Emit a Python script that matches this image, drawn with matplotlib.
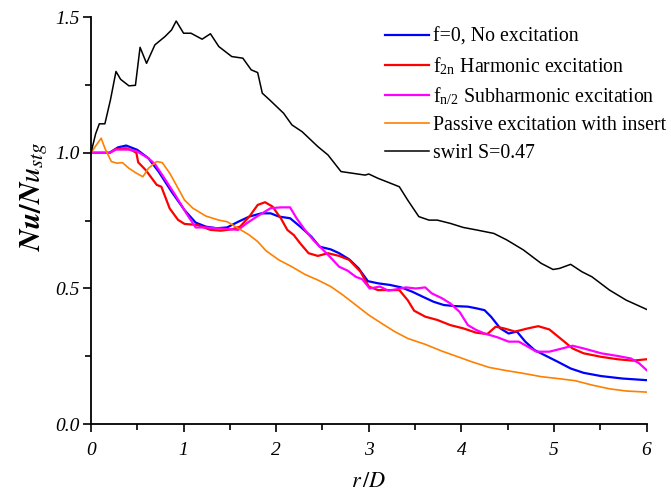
import numpy as np
import matplotlib.pyplot as plt

plt.rcParams['font.family'] = ['Liberation Serif', 'DejaVu Serif']
plt.rcParams['mathtext.fontset'] = 'stix'

# r/D and Nu/Nu_stg for each case
x_blue = [0, 0.2, 0.29, 0.38, 0.50, 0.62, 0.73, 0.87, 1.01, 1.13, 1.24, 1.36, 1.47, 1.59, 1.71,
          1.84, 1.94, 2.03, 2.15, 2.26, 2.38, 2.47, 2.59, 2.68, 2.79, 2.89, 2.99, 3.10, 3.23,
          3.35, 3.47, 3.58, 3.70, 3.81, 3.93, 4.07, 4.16, 4.25, 4.32, 4.42, 4.51, 4.60, 4.69,
          4.79, 4.90, 5.04, 5.18, 5.32, 5.51, 5.74, 6.0]
y_blue = [1.0, 1.0, 1.02, 1.027, 1.011, 0.98, 0.931, 0.857, 0.789, 0.743, 0.728, 0.722, 0.725,
          0.746, 0.765, 0.777, 0.777, 0.765, 0.759, 0.728, 0.691, 0.654, 0.644, 0.630, 0.607,
          0.574, 0.527, 0.519, 0.513, 0.504, 0.488, 0.470, 0.451, 0.439, 0.435, 0.433, 0.427,
          0.420, 0.396, 0.353, 0.334, 0.341, 0.304, 0.273, 0.254, 0.230, 0.205, 0.189, 0.177,
          0.168, 0.162]

x_red = [0, 0.2, 0.27, 0.38, 0.45, 0.49, 0.51, 0.59, 0.71, 0.76, 0.85, 0.94, 1.01, 1.15, 1.29,
         1.40, 1.52, 1.61, 1.71, 1.80, 1.88, 1.96, 2.05, 2.12, 2.19, 2.26, 2.35, 2.45, 2.56,
         2.68, 2.79, 2.91, 3.0, 3.10, 3.19, 3.33, 3.42, 3.49, 3.61, 3.74, 3.88, 4.02, 4.16,
         4.28, 4.37, 4.46, 4.58, 4.72, 4.83, 4.95, 5.09, 5.20, 5.32, 5.51, 5.69, 5.85, 6.0]
y_red = [1.0, 1.0, 1.014, 1.017, 1.008, 1.0, 0.965, 0.937, 0.882, 0.875, 0.795, 0.753, 0.738,
         0.734, 0.716, 0.713, 0.718, 0.728, 0.765, 0.808, 0.818, 0.802, 0.759, 0.716, 0.697,
         0.666, 0.630, 0.620, 0.630, 0.620, 0.605, 0.562, 0.507, 0.494, 0.494, 0.494, 0.457,
         0.418, 0.396, 0.384, 0.365, 0.353, 0.337, 0.332, 0.359, 0.353, 0.341, 0.353, 0.361,
         0.349, 0.310, 0.279, 0.261, 0.248, 0.239, 0.234, 0.239]

x_mag = [0, 0.2, 0.27, 0.41, 0.50, 0.62, 0.69, 0.78, 0.92, 1.03, 1.13, 1.24, 1.36, 1.47, 1.59,
         1.68, 1.80, 1.94, 2.05, 2.15, 2.22, 2.31, 2.40, 2.49, 2.58, 2.68, 2.77, 2.86, 2.93,
         3.01, 3.12, 3.21, 3.30, 3.40, 3.51, 3.61, 3.68, 3.79, 3.88, 3.98, 4.07, 4.16, 4.25,
         4.39, 4.51, 4.62, 4.72, 4.81, 4.95, 5.09, 5.20, 5.32, 5.51, 5.69, 5.83, 5.92, 6.0]
y_mag = [1.0, 1.0, 1.012, 1.012, 1.005, 0.98, 0.959, 0.913, 0.839, 0.777, 0.725, 0.725, 0.722,
         0.719, 0.716, 0.740, 0.767, 0.796, 0.799, 0.799, 0.759, 0.716, 0.679, 0.648, 0.617,
         0.580, 0.566, 0.543, 0.534, 0.500, 0.507, 0.492, 0.497, 0.504, 0.500, 0.504, 0.482,
         0.464, 0.445, 0.414, 0.365, 0.347, 0.334, 0.320, 0.304, 0.304, 0.285, 0.267, 0.267,
         0.279, 0.289, 0.279, 0.261, 0.251, 0.242, 0.224, 0.199]

x_orange = [0, 0.05, 0.11, 0.15, 0.22, 0.28, 0.34, 0.41, 0.49, 0.56, 0.62, 0.71, 0.77, 0.85,
            0.92, 1.01, 1.10, 1.24, 1.38, 1.47, 1.59, 1.71, 1.80, 1.89, 2.03, 2.17, 2.31, 2.45,
            2.59, 2.72, 2.86, 3.0, 3.14, 3.28, 3.42, 3.61, 3.79, 3.98, 4.11, 4.30, 4.49, 4.67,
            4.86, 5.04, 5.23, 5.41, 5.60, 5.78, 6.0]
y_orange = [1.0, 1.025, 1.054, 1.017, 0.968, 0.962, 0.964, 0.943, 0.925, 0.912, 0.943, 0.968,
            0.964, 0.925, 0.882, 0.826, 0.796, 0.767, 0.752, 0.746, 0.722, 0.697, 0.673, 0.639,
            0.605, 0.580, 0.552, 0.531, 0.507, 0.476, 0.439, 0.402, 0.371, 0.341, 0.316, 0.294,
            0.269, 0.246, 0.230, 0.209, 0.197, 0.187, 0.175, 0.168, 0.160, 0.144, 0.130, 0.122,
            0.118]

x_black = [0, 0.05, 0.09, 0.15, 0.21, 0.27, 0.32, 0.41, 0.48, 0.53, 0.60, 0.69, 0.80, 0.87,
           0.92, 1.0, 1.08, 1.20, 1.29, 1.38, 1.52, 1.64, 1.73, 1.80, 1.85, 1.93, 2.08, 2.17,
           2.28, 2.45, 2.56, 2.70, 2.82, 2.96, 3.0, 3.10, 3.19, 3.33, 3.42, 3.54, 3.65, 3.74,
           3.88, 4.02, 4.16, 4.35, 4.49, 4.67, 4.86, 4.99, 5.06, 5.18, 5.30, 5.41, 5.60, 5.78,
           6.0]
y_black = [1.0, 1.07, 1.107, 1.107, 1.195, 1.30, 1.271, 1.247, 1.249, 1.389, 1.330, 1.398,
           1.429, 1.453, 1.486, 1.441, 1.441, 1.419, 1.439, 1.392, 1.355, 1.349, 1.306, 1.296,
           1.22, 1.195, 1.146, 1.103, 1.078, 1.023, 0.992, 0.931, 0.925, 0.918, 0.922, 0.906,
           0.894, 0.875, 0.826, 0.765, 0.752, 0.752, 0.740, 0.725, 0.716, 0.703, 0.679, 0.642,
           0.593, 0.570, 0.574, 0.589, 0.562, 0.543, 0.494, 0.457, 0.423]

labels = ['f=0, No excitation',
          r'f$_{\mathregular{2n}}$ Harmonic excitation',
          r'f$_{\mathregular{n/2}}$ Subharmonic excitation',
          'Passive excitation with insert',
          'swirl S=0.47']

fig = plt.figure(figsize=(6.71, 4.92), dpi=100)
ax = fig.add_axes([0.1356, 0.138, 0.828, 0.827])

ax.plot(x_blue, y_blue, color='#0000ff', lw=1.6, label=labels[0])
ax.plot(x_red, y_red, color='#ff0000', lw=1.6, label=labels[1])
ax.plot(x_mag, y_mag, color='#ff00ff', lw=1.6, label=labels[2])
ax.plot(x_orange, y_orange, color='#ff8000', lw=1.2, label=labels[3])
ax.plot(x_black, y_black, color='black', lw=1.1, label=labels[4])

ax.set_xlim(0, 6)
ax.set_ylim(0, 1.5)
ax.set_xticks(np.arange(0, 7, 1))
ax.set_xticks(np.arange(0.5, 6, 1), minor=True)
ax.set_yticks([0, 0.5, 1.0, 1.5])
ax.set_yticks([0.25, 0.75, 1.25], minor=True)
ax.set_yticklabels(['0.0', '0.5', '1.0', '1.5'])
for lab in ax.get_xticklabels() + ax.get_yticklabels():
    lab.set_fontstyle('italic')
ax.tick_params(which='major', direction='out', length=6, width=1.2, labelsize=14)
ax.tick_params(axis='x', which='major', pad=7)
ax.tick_params(axis='y', which='major', pad=2)
ax.tick_params(which='minor', direction='out', length=4, width=1.2)
ax.spines['top'].set_visible(False)
ax.spines['right'].set_visible(False)
ax.spines['left'].set_linewidth(1.3)
ax.spines['bottom'].set_linewidth(1.3)

ax.set_xlabel('$r\\,/D$', fontsize=16, labelpad=10)
ax.set_ylabel(r'$\boldsymbol{Nu/Nu_{stg}}$', fontsize=21.5)
ax.yaxis.set_label_coords(-0.074, 0.56)

fig.legend(loc='upper left', bbox_to_anchor=(0.574, 0.944), frameon=False,
           fontsize=14.3, handlelength=2.2, handletextpad=0.2, labelspacing=0.44,
           borderaxespad=0, borderpad=0)

fig.savefig('out.png', dpi=100)
